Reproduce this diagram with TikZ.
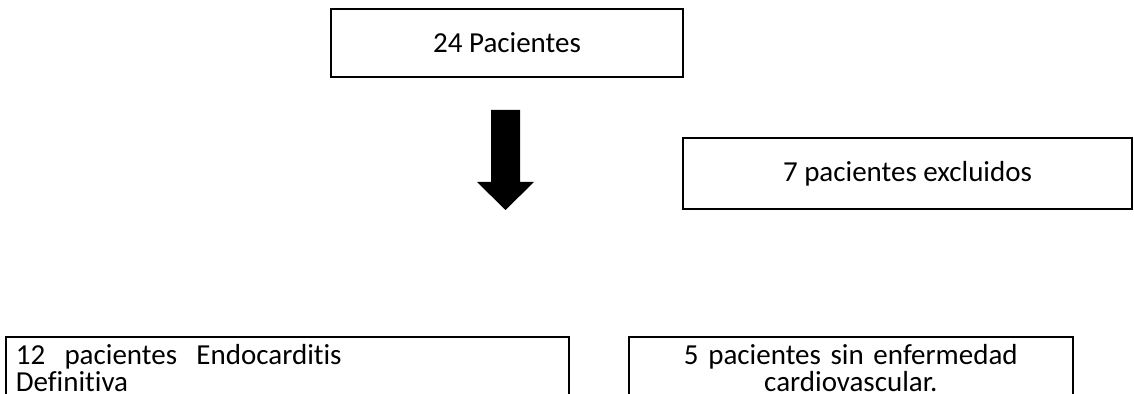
\documentclass[tikz,border=0pt]{standalone}
\usepackage{fontspec}
\setmainfont{Carlito}[Ligatures=NoCommon]
\usetikzlibrary{positioning}
\begin{document}
\begin{tikzpicture}[x=0.5pt, y=-0.5pt,
                    flowbox/.style={draw, line width=0.8pt, font=\fontsize{14.5}{13.5}\selectfont}]
        \useasboundingbox (0,0) rectangle (1134,394);
        \clip (0,0) rectangle (1134,394);
        \node[flowbox, minimum width=176pt, minimum height=34pt](total) at (507,43){24 Pacientes};
        \node[flowbox, minimum width=224.5pt, minimum height=35.5pt](excl) at (907.5,173.5){7 pacientes excluidos};
        \node[flowbox, anchor=north west, align=left, text width=271.5pt, inner xsep=5pt, inner ysep=4pt, text depth=30pt](endo) at (5,336){12~ pacientes~ Endocarditis\\Definitiva};
        \node[flowbox, anchor=north west, align=center, text width=212pt, inner xsep=5pt, inner ysep=4pt, text depth=30pt](sincv) at (628,336){5 pacientes sin enfermedad\\cardiovascular.};

        % block arrow below the first box
        \fill (491,110) -- (520,110) -- (520,182) -- (534,182) -- (505.5,210) -- (477,182) -- (491,182) -- cycle;
    \end{tikzpicture}
\end{document}
